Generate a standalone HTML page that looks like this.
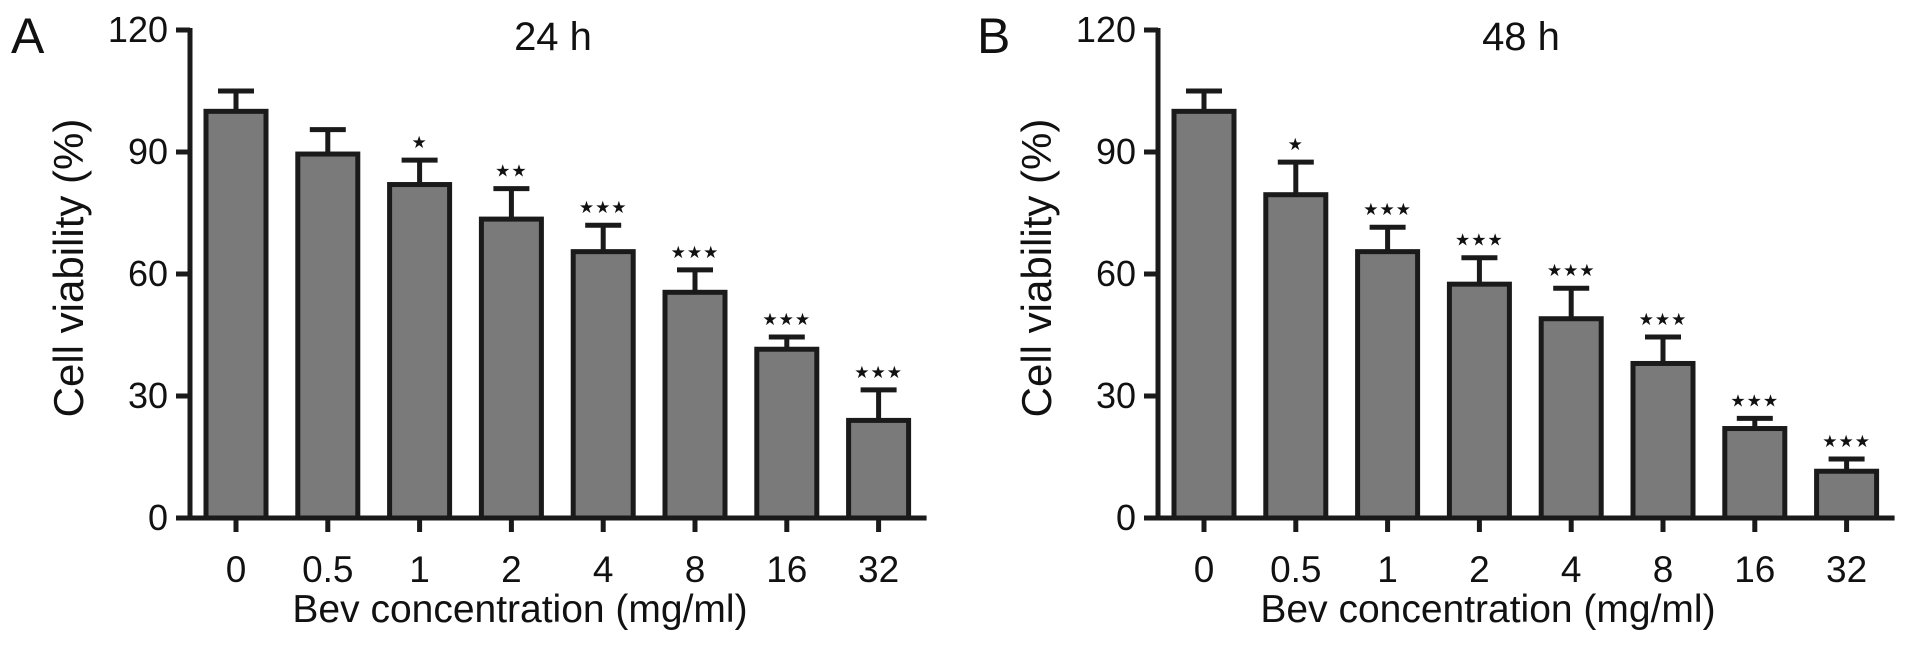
<!DOCTYPE html>
<html><head><meta charset="utf-8"><style>
html,body{margin:0;padding:0;background:#fff;}
svg text{font-family:"Liberation Sans",Arial,sans-serif;fill:#111;}
</style></head><body>
<svg id="fig" width="1913" height="654" viewBox="0 0 1913 654" xmlns="http://www.w3.org/2000/svg"></svg>
<script>
const categories = ["0","0.5","1","2","4","8","16","32"];
const valuesA = [100, 89.5, 82, 73.5, 65.5, 55.5, 41.5, 24];
const errorsA = [5, 6, 6, 7.5, 6.5, 5.5, 3, 7.5];
const starsA = ["", "", "★", "★★", "★★★", "★★★", "★★★", "★★★"];
const valuesB = [100, 79.5, 65.5, 57.5, 49, 38, 22, 11.5];
const errorsB = [5, 8, 6, 6.5, 7.5, 6.5, 2.5, 3];
const starsB = ["", "★", "★★★", "★★★", "★★★", "★★★", "★★★", "★★★"];
const yTicks = [0, 30, 60, 90, 120];

const NS = "http://www.w3.org/2000/svg";
const svg = document.getElementById('fig');
function mk(tag, attrs, parent){
  const e = document.createElementNS(NS, tag);
  for (const k in attrs) e.setAttribute(k, attrs[k]);
  (parent||svg).appendChild(e);
  return e;
}
function panel(cfg){
  const g = mk('g', {});
  
  
  const y0 = 518, yTop = 30, ymax = 120;
  const y = v => y0 - (v / ymax) * (y0 - yTop);
  const step = 91.8, first = cfg.ax + 46, bw = 60;
  const x = i => first + i * step;
  const ya = mk('line', {x1: cfg.ax, y1: yTop - 2, x2: cfg.ax, y2: y0 + 2.5, stroke: '#1a1a1a', 'stroke-width': 5}, g);
  
  
  yTicks.forEach(t => {
    const tk = mk('line', {x1: cfg.ax - 14, y1: y(t), x2: cfg.ax, y2: y(t), stroke: '#1a1a1a', 'stroke-width': 5}, g);
    
    
    const tl = mk('text', {x: cfg.ax - 22, y: y(t) + 12, 'font-size': 36, 'text-anchor': 'end'}, g);
    tl.textContent = t;
    
    
  });
  const xa = mk('line', {x1: cfg.ax - 2.5, y1: y0, x2: x(7) + 48, y2: y0, stroke: '#1a1a1a', 'stroke-width': 5}, g);
  
  
  categories.forEach((c, i) => {
    const v = cfg.values[i], e = cfg.errors[i];
    const eb = mk('line', {x1: x(i), y1: y(v), x2: x(i), y2: y(v + e), stroke: '#1a1a1a', 'stroke-width': 5}, g);
    
    
    const cap = mk('line', {x1: x(i) - 18, y1: y(v + e), x2: x(i) + 18, y2: y(v + e), stroke: '#1a1a1a', 'stroke-width': 5}, g);
    
    
    const r = mk('rect', {x: x(i) - bw / 2, y: y(v), width: bw, height: y0 - y(v), fill: '#7a7a7a', stroke: '#1a1a1a', 'stroke-width': 5}, g);
    
    
    const tk = mk('line', {x1: x(i), y1: y0, x2: x(i), y2: y0 + 14, stroke: '#1a1a1a', 'stroke-width': 5}, g);
    
    
    const tl = mk('text', {x: x(i), y: 582, 'font-size': 37, 'text-anchor': 'middle'}, g);
    tl.textContent = c;
    
    
    if (cfg.stars[i]) {
      const st = mk('text', {x: x(i), y: y(v + e) - 12, 'font-size': 17, 'text-anchor': 'middle', 'letter-spacing': '1', style: 'font-family:"DejaVu Sans",sans-serif'}, g);
      st.textContent = cfg.stars[i];
      
      
    }
  });
  const xt = mk('text', {x: cfg.ax + 330, y: 622, 'font-size': 39, 'text-anchor': 'middle'}, g);
  xt.textContent = 'Bev concentration (mg/ml)';
  
  
  const yt = mk('text', {x: 0, y: 0, 'font-size': 42, 'text-anchor': 'middle', transform: `translate(${cfg.ax - 107},268) rotate(-90)`}, g);
  yt.textContent = 'Cell viability (%)';
  
  
  const ti = mk('text', {x: cfg.ax + 363, y: 50, 'font-size': 40, 'text-anchor': 'middle'}, g);
  ti.textContent = cfg.title;
  
  
  const pl = mk('text', {x: cfg.lx, y: 53, 'font-size': 50}, g);
  pl.textContent = cfg.id;
  
  
}
panel({id: 'A', ax: 190, lx: 11, title: '24 h', values: valuesA, errors: errorsA, stars: starsA});
panel({id: 'B', ax: 1158, lx: 977, title: '48 h', values: valuesB, errors: errorsB, stars: starsB});
</script>
</body></html>
